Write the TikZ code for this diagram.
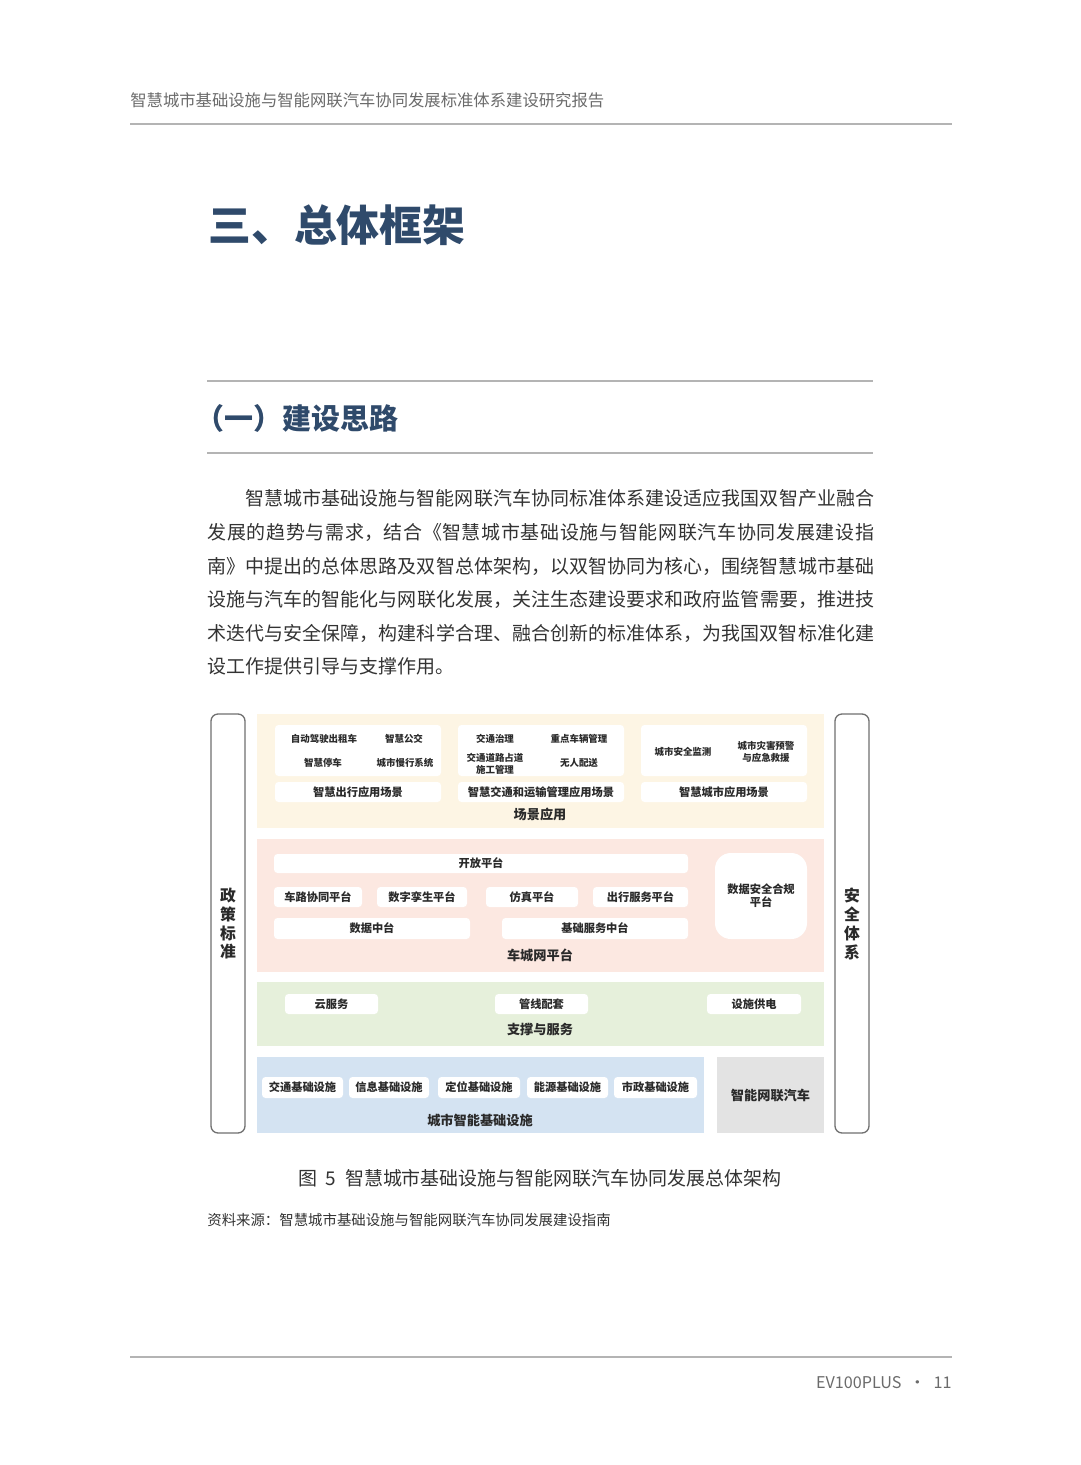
\documentclass[tikz,border=0pt]{standalone}
\usepackage{fontspec}
\usepackage{xcolor}
\usepackage{tikz}
\usetikzlibrary{positioning}
\setmainfont{Noto Sans CJK SC}
\XeTeXlinebreaklocale "zh"
\XeTeXlinebreakskip=0pt plus 3pt minus 0.3pt
\definecolor{HeadingBlue}{HTML}{2F4A6B}
\definecolor{BodyText}{HTML}{333333}
\definecolor{MutedText}{HTML}{6B6B6B}
\definecolor{RuleGray}{HTML}{B4B4B4}
\definecolor{FrameGray}{HTML}{707070}
\definecolor{SceneCream}{HTML}{FDF5E4}
\definecolor{PlatformPink}{HTML}{FCE8E1}
\definecolor{SupportGreen}{HTML}{E6F0DB}
\definecolor{InfraBlue}{HTML}{D4E3F2}
\definecolor{VehicleGray}{HTML}{E3E3E3}
\definecolor{TileText}{HTML}{2A2A2A}
\newcommand{\tilebox}[7]{%
    \node[#1, minimum width={(#5-#3)*0.02cm}, minimum height={(#6-#4)*0.02cm}]
        (#2) at ({(#3+#5)/2},{(#4+#6)/2}) {#7};%
}
% one justified line of the paragraph
\newcommand{\bodyrow}[2]{%
    \parbox{#1}{\tolerance=9999\parfillskip=0pt\parindent=0pt\relax #2}%
}
\tikzset{
    tierband/.style={inner sep=0pt, align=center},
    wtile/.style={fill=white, rounded corners=2pt, inner sep=0pt, align=center,
        text=TileText, font=\fontsize{6.4}{7.4}\selectfont\bfseries},
    itemtext/.style={text=TileText, align=center, inner sep=0pt,
        font=\fontsize{5.4}{6.6}\selectfont\bfseries},
    tiertitle/.style={text=TileText, inner sep=0pt,
        font=\fontsize{7.5}{9}\selectfont\bfseries},
    sideframe/.style={draw=FrameGray, line width=0.75pt, rounded corners=4pt,
        fill=white, inner sep=0pt, align=center, text=TileText,
        font=\fontsize{9}{10.8}\selectfont\bfseries},
    pagerule/.style={draw=RuleGray, line width=0.8pt},
    bodyline/.style={anchor=west, inner sep=0pt, text=BodyText,
        font=\fontsize{10.8}{12}\selectfont},
}
\begin{document}
\begin{tikzpicture}[x=0.02cm, y=-0.02cm]
    \useasboundingbox[fill=white] (0,0) rectangle (1080,1465);

    % page header
    \node[anchor=west, inner sep=0pt, text=MutedText, font=\fontsize{9.3}{10}\selectfont]
        (runhead) at (130,100) {智慧城市基础设施与智能网联汽车协同发展标准体系建设研究报告};
    \draw[pagerule] (130,124) -- (952,124);

    % headings
    \node[anchor=west, inner sep=0pt, text=HeadingBlue, font=\fontsize{24.4}{28}\selectfont\bfseries]
        (title) at (208,225) {三、总体框架};
    \draw[pagerule] (207,381) -- (873,381);
    \node[anchor=west, inner sep=0pt, text=HeadingBlue, font=\fontsize{16.5}{19}\selectfont\bfseries]
        (subtitle) at (195,418) {（一）建设思路};
    \draw[pagerule] (207,453) -- (873,453);

    % paragraph
    \node[bodyline] (p1) at (245,498) {\bodyrow{12.58cm}{智慧城市基础设施与智能网联汽车协同标准体系建设适应我国双智产业融合}};
    \node[bodyline] (p2) at (207,532) {\bodyrow{13.34cm}{发展的趋势与需求，结合《智慧城市基础设施与智能网联汽车协同发展建设指}};
    \node[bodyline] (p3) at (207,566) {\bodyrow{13.34cm}{南》中提出的总体思路及双智总体架构，以双智协同为核心，围绕智慧城市基础}};
    \node[bodyline] (p4) at (207,599) {\bodyrow{13.34cm}{设施与汽车的智能化与网联化发展，关注生态建设要求和政府监管需要，推进技}};
    \node[bodyline] (p5) at (207,633) {\bodyrow{13.34cm}{术迭代与安全保障，构建科学合理、融合创新的标准体系，为我国双智标准化建}};
    \node[bodyline] (p6) at (207,666) {设工作提供引导与支撑作用。};

    % side frames
    \tilebox{sideframe}{policy}{211}{714}{245}{1133}{政\\策\\标\\准}
    \tilebox{sideframe}{safety}{835}{714}{869}{1133}{安\\全\\体\\系}

    % scene layer
    \tilebox{tierband, fill=SceneCream}{scene}{257}{714}{824}{828}{}
    \tilebox{wtile}{s1}{275}{725}{441}{776}{}
    \tilebox{wtile}{s2}{458}{725}{624}{776}{}
    \tilebox{wtile}{s3}{641}{725}{807}{776}{}
    \tilebox{wtile}{s1l}{275}{782}{441}{802}{智慧出行应用场景}
    \tilebox{wtile}{s2l}{458}{782}{624}{802}{智慧交通和运输管理应用场景}
    \tilebox{wtile}{s3l}{641}{782}{807}{802}{智慧城市应用场景}
    \node[itemtext] (taxi) at (324,739) {自动驾驶出租车};
    \node[itemtext] (bus) at (404,739) {智慧公交};
    \node[itemtext] (park) at (323,763) {智慧停车};
    \node[itemtext] (slow) at (405,763) {城市慢行系统};
    \node[itemtext] (gov) at (495,739) {交通治理};
    \node[itemtext] (fleet) at (579,739) {重点车辆管理};
    \node[itemtext] (road) at (495,764) {交通道路占道\\施工管理};
    \node[itemtext] (deliv) at (579,763) {无人配送};
    \node[itemtext] (monit) at (683,752) {城市安全监测};
    \node[itemtext] (rescue) at (766,752) {城市灾害预警\\与应急救援};
    \node[tiertitle] (scenet) at (540,814) {场景应用};

    % platform layer
    \tilebox{tierband, fill=PlatformPink}{plat}{257}{839}{824}{972}{}
    \tilebox{wtile}{open}{274}{854}{688}{873}{开放平台}
    \tilebox{wtile}{v2x}{274}{887}{362}{907}{车路协同平台}
    \tilebox{wtile}{twin}{377}{887}{467}{907}{数字孪生平台}
    \tilebox{wtile}{sim}{486}{887}{578}{907}{仿真平台}
    \tilebox{wtile}{mob}{593}{887}{688}{907}{出行服务平台}
    \tilebox{wtile}{data}{274}{918}{470}{939}{数据中台}
    \tilebox{wtile}{base}{502}{918}{688}{939}{基础服务中台}
    \tilebox{wtile, rounded corners=9pt}{secure}{715}{853}{807}{939}{数据安全合规\\平台}
    \node[tiertitle] (platt) at (540,955) {车城网平台};

    % support layer
    \tilebox{tierband, fill=SupportGreen}{supp}{257}{982}{824}{1046}{}
    \tilebox{wtile}{cloud}{285}{994}{378}{1014}{云服务}
    \tilebox{wtile}{pipe}{495}{994}{588}{1014}{管线配套}
    \tilebox{wtile}{power}{707}{994}{801}{1014}{设施供电}
    \node[tiertitle] (suppt) at (540,1030) {支撑与服务};

    % infrastructure layer
    \tilebox{tierband, fill=InfraBlue}{infra}{257}{1057}{704}{1133}{}
    \tilebox{wtile}{i1}{262}{1077}{343}{1098}{交通基础设施}
    \tilebox{wtile}{i2}{349}{1077}{429}{1098}{信息基础设施}
    \tilebox{wtile}{i3}{438}{1077}{520}{1098}{定位基础设施}
    \tilebox{wtile}{i4}{527}{1077}{608}{1098}{能源基础设施}
    \tilebox{wtile}{i5}{614}{1077}{697}{1098}{市政基础设施}
    \node[tiertitle] (infrat) at (480,1120) {城市智能基础设施};
    \tilebox{tierband, fill=VehicleGray, text=TileText, font=\fontsize{7.5}{9}\selectfont\bfseries}{icv}{717}{1057}{824}{1133}{智能网联汽车}

    % caption and source
    \node[inner sep=0pt, text=BodyText, font=\fontsize{10.8}{12}\selectfont]
        (caption) at (540,1178) {图\hspace{0.45em}5\hspace{0.45em}智慧城市基础设施与智能网联汽车协同发展总体架构};
    \node[anchor=west, inner sep=0pt, text=BodyText, font=\fontsize{8.2}{10}\selectfont]
        (source) at (207,1220) {资料来源：智慧城市基础设施与智能网联汽车协同发展建设指南};

    % page footer
    \draw[pagerule] (130,1357) -- (952,1357);
    \node[anchor=east, inner sep=0pt, text=MutedText, font=\fontsize{9.2}{10}\selectfont]
        (folio) at (952,1383) {EV100PLUS\hspace{0.5em}·\hspace{0.5em}11};
\end{tikzpicture}
\end{document}
